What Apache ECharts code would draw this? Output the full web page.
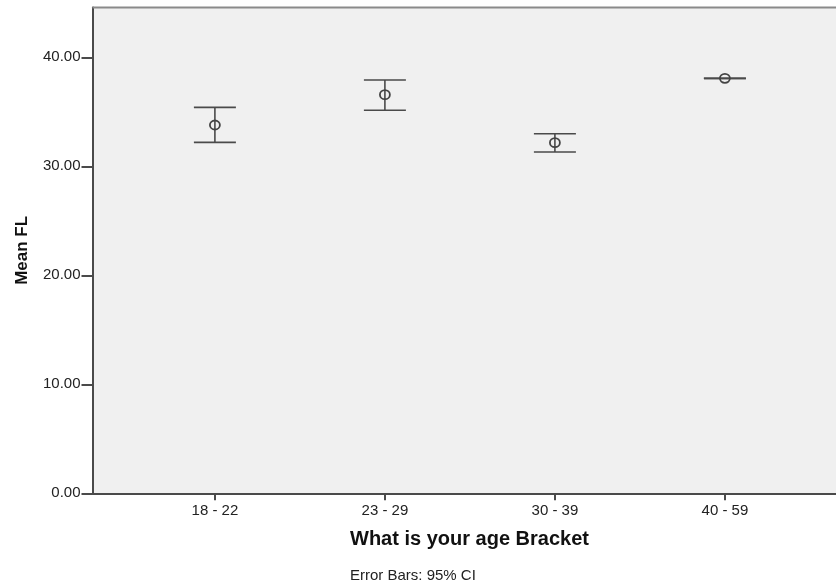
<!DOCTYPE html>
<html>
<head>
<meta charset="utf-8">
<script src="https://cdn.jsdelivr.net/npm/echarts@6/dist/echarts.min.js"></script>
<style>html,body{margin:0;padding:0;background:#fff}#c{width:836px;height:586px}</style>
</head>
<body>
<div id="c"></div>
<script>
var categories = ['18 - 22', '23 - 29', '30 - 39', '40 - 59'];
var means = [33.79, 36.57, 32.17, 38.07];
var lowerCI = [32.20, 35.14, 31.31, 38.07];
var upperCI = [35.41, 37.92, 32.99, 38.07];
var yTicks = [0, 10, 20, 30, 40];

var FONT = '"Liberation Sans", Arial, sans-serif';
var LINE = '#4a4a4a';

var barData = categories.map(function (c, i) { return [i, lowerCI[i], upperCI[i], means[i]]; });

var chart = echarts.init(document.getElementById('c'));
chart.setOption({
  animation: false,
  backgroundColor: '#ffffff',
  grid: {
    left: 92.5, top: 7.5, bottom: 92.7, right: 0,
    show: true, backgroundColor: '#f0f0f0', borderWidth: 0
  },
  graphic: [
    { type: 'line', z: 100, shape: { x1: 92.5, y1: 7.5, x2: 836, y2: 7.5 }, style: { stroke: '#8a8a8a', lineWidth: 2 } },
    { type: 'text', left: 350, top: 529, style: { text: 'What is your age Bracket', font: 'bold 20px ' + FONT, fill: '#111' } },
    { type: 'text', left: 350, top: 568, style: { text: 'Error Bars: 95% CI', font: '15px ' + FONT, fill: '#222' } }
  ],
  xAxis: {
    type: 'value', min: -0.72, max: 3.6535,
    axisLine: { show: true, onZero: false, lineStyle: { color: LINE, width: 2 } },
    axisTick: { show: true, length: 7, lineStyle: { color: LINE, width: 2 }, customValues: [0, 1, 2, 3] },
    axisLabel: {
      customValues: [0, 1, 2, 3], margin: 10,
      fontFamily: FONT, fontSize: 15, color: '#222',
      formatter: function (v) { return categories[Math.round(v)]; }
    },
    splitLine: { show: false }
  },
  yAxis: {
    type: 'value', min: 0, max: 44.57,
    name: 'Mean FL', nameLocation: 'middle', nameGap: 62, nameRotate: 90,
    nameTextStyle: { fontFamily: FONT, fontSize: 17, fontWeight: 'bold', color: '#111' },
    axisLine: { show: true, onZero: false, lineStyle: { color: LINE, width: 2 } },
    axisTick: { show: true, length: 11, lineStyle: { color: LINE, width: 2 }, customValues: yTicks },
    axisLabel: {
      customValues: yTicks, margin: 12,
      fontFamily: FONT, fontSize: 15, color: '#222',
      formatter: function (v) { return v.toFixed(2); }
    },
    splitLine: { show: false }
  },
  series: [{
    type: 'custom',
    data: barData,
    encode: { x: 0, y: [1, 2, 3] },
    renderItem: function (params, api) {
      var x = api.value(0);
      var lo = api.coord([x, api.value(1)]);
      var hi = api.coord([x, api.value(2)]);
      var m = api.coord([x, api.value(3)]);
      var hw = 21;
      var st = { stroke: LINE, lineWidth: 1.6, fill: null };
      return {
        type: 'group',
        children: [
          { type: 'line', shape: { x1: lo[0], y1: lo[1], x2: hi[0], y2: hi[1] }, style: st },
          { type: 'line', shape: { x1: lo[0] - hw, y1: lo[1], x2: lo[0] + hw, y2: lo[1] }, style: st },
          { type: 'line', shape: { x1: hi[0] - hw, y1: hi[1], x2: hi[0] + hw, y2: hi[1] }, style: st },
          { type: 'ellipse', shape: { cx: m[0], cy: m[1], rx: 5, ry: 4.5 }, style: { stroke: '#444', lineWidth: 1.8, fill: null } }
        ]
      };
    }
  }]
});
</script>
</body>
</html>
